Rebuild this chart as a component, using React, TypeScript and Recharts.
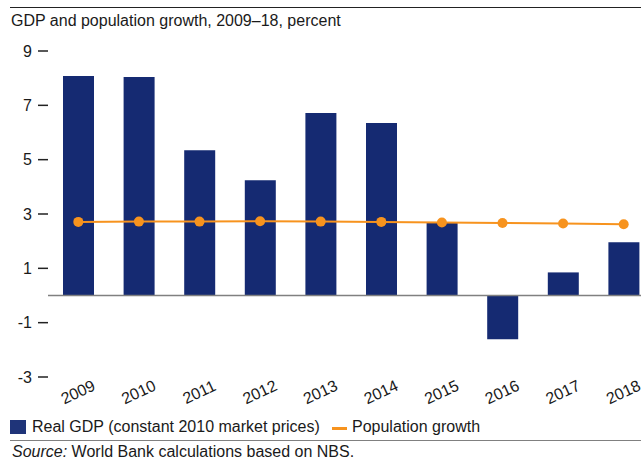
import { ComposedChart, Bar, Line, XAxis, YAxis, ReferenceLine } from 'recharts'

const years = ['2009', '2010', '2011', '2012', '2013', '2014', '2015', '2016', '2017', '2018']
const realGdp = [8.08, 8.04, 5.35, 4.24, 6.72, 6.35, 2.68, -1.61, 0.85, 1.96]
const popGrowth = [2.71, 2.72, 2.72, 2.73, 2.72, 2.71, 2.69, 2.67, 2.65, 2.62]
const yTicks = [-3, -1, 1, 3, 5, 7, 9]

const NAVY = '#152a72'
const ORANGE = '#f7931e'
const FONT = '"Liberation Sans", Arial, sans-serif'

const data = years.map((y, i) => ({ year: y, gdp: realGdp[i], pop: popGrowth[i] }))

function YearTick(props: any) {
  const { x, y, payload } = props
  const tx = x + 2
  const ty = y + 12
  return (
    <text
      x={tx}
      y={ty}
      transform={`rotate(-25, ${tx}, ${ty})`}
      textAnchor="middle"
      fontSize={16}
      fontFamily={FONT}
      fill="#1a1a1a"
    >
      {payload.value}
    </text>
  )
}

export default function App() {
  return (
    <div
      style={{
        position: 'absolute', left: 0, top: 0, width: 641, height: 459,
        overflow: 'hidden', background: '#fff', fontFamily: FONT, color: '#1a1a1a',
      }}
    >
      <div style={{ position: 'absolute', left: 10, right: 0, top: 7, borderTop: '1px solid #222' }} />
      <div style={{ position: 'absolute', left: 11, top: 12, fontSize: 16, whiteSpace: 'nowrap' }}>
        GDP and population growth, 2009–18, percent
      </div>

      <div style={{ position: 'absolute', left: 0, top: 0 }}>
        <ComposedChart
          width={660}
          height={459}
          data={data}
          margin={{ top: 51, right: 6, bottom: 52, left: 0 }}
        >
          <XAxis
            dataKey="year"
            axisLine={false}
            tickLine={false}
            height={30}
            interval={0}
            tick={<YearTick />}
          />
          <YAxis
            domain={[-3, 9]}
            ticks={yTicks}
            interval={0}
            width={48}
            axisLine={false}
            tickSize={10}
            tickMargin={6}
            tickLine={{ stroke: '#222', strokeWidth: 1.5 }}
            tick={{ fill: '#1a1a1a', fontSize: 16, fontFamily: FONT }}
          />
          <Bar dataKey="gdp" fill={NAVY} barSize={31} isAnimationActive={false} />
          <ReferenceLine y={0} stroke="#808080" strokeWidth={1.5} />
          <Line
            dataKey="pop"
            stroke={ORANGE}
            strokeWidth={2}
            dot={{ r: 5, fill: ORANGE, stroke: ORANGE, strokeWidth: 0 }}
            isAnimationActive={false}
          />
        </ComposedChart>
      </div>

      <div style={{ position: 'absolute', left: 10, top: 420, width: 16, height: 14, background: '#1f3479' }} />
      <div style={{ position: 'absolute', left: 32, top: 418, fontSize: 16, whiteSpace: 'nowrap' }}>
        Real GDP (constant 2010 market prices)
      </div>
      <div style={{ position: 'absolute', left: 332, top: 427, width: 15, height: 3, background: ORANGE }} />
      <div style={{ position: 'absolute', left: 352, top: 418, fontSize: 16, whiteSpace: 'nowrap' }}>
        Population growth
      </div>
      <div style={{ position: 'absolute', left: 10, right: 0, top: 440, borderTop: '1.5px solid #808080' }} />
      <div style={{ position: 'absolute', left: 12, top: 443, fontSize: 16, whiteSpace: 'nowrap' }}>
        <i>Source:</i> World Bank calculations based on NBS.
      </div>
    </div>
  )
}
